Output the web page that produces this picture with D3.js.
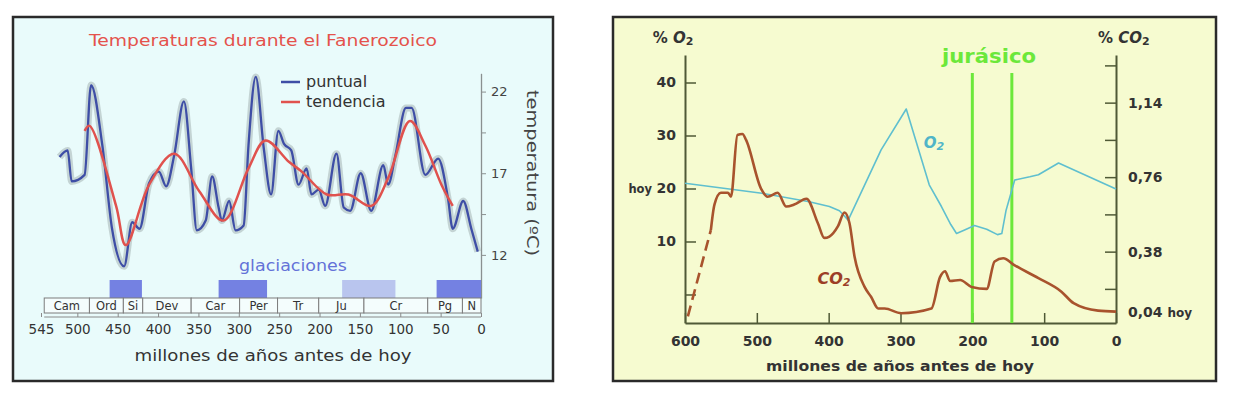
<!DOCTYPE html>
<html>
<head>
<meta charset="utf-8">
<script src="https://cdn.jsdelivr.net/npm/d3@7"></script>
<style>
  body { margin: 0; background: #fff; }
  svg { display: block; font-family: "DejaVu Sans", sans-serif; }
</style>
</head>
<body>
<svg width="1234" height="398"></svg>
<script>
// ---------- left panel: temperatures
const tempAges = [522,512,507,491,483,469,457,442,432,423,411,399,390,380,368,359,352,341,333,325,321,312,304,294,288,279,269,260,251,244,235,226,216,210,201,193,179,170,162,149,136,121,115,106,93,86,69,53,41,35,22,12,4]
const tempPuntual = [18.0,18.4,16.5,16.9,22.4,18.7,13.6,11.3,14.0,13.6,16.4,17.1,16.2,18.1,21.4,17.3,13.5,14.1,16.8,14.9,14.1,15.3,13.5,13.8,18.7,22.9,18.5,15.7,19.6,18.8,18.4,16.3,17.3,15.7,16.0,15.0,18.2,14.9,14.7,17.0,14.7,17.5,16.3,18.1,21.0,21.0,16.9,17.9,15.5,13.6,15.3,13.6,12.2]
const trendAges = [491,485,452,440,411,380,349,319,288,267,238,222,191,164,136,115,88,69,49,35]
const tempTendencia = [19.6,19.9,15.0,12.6,16.3,18.2,15.9,14.1,17.3,19.0,17.7,17.1,15.7,15.7,15.0,16.7,20.2,18.7,16.3,15.0]
const tempTicks = [12, 14.5, 17, 19.5, 22]
const tempTickLabels = [12, 17, 22]
const periodNames = ["Cam","Ord","Si","Dev","Car","Per","Tr","Ju","Cr","Pg","N"]
const periodStarts = [541,485,443,419,359,299,252,201,145,66,23]
const ageTicksLeft = [545,500,450,400,350,300,250,200,150,100,50,0]
const glacStart = [460,325,172,55]
const glacEnd = [420,265,106,0]
const glacUncertain = [false,false,true,false]

// ---------- right panel: O2 and CO2
const o2Ages = [600,549,493,427,399,385,378,373,327,292,260,243,230,222,210,197,180,165,159,153,141,120,108,80,0]
const o2Vals = [21.0,20.1,19.1,17.5,16.6,15.8,14.8,14.0,27.3,35.0,20.7,16.6,13.2,11.5,12.2,13.0,12.3,11.3,11.5,15.9,21.6,22.2,22.6,24.8,19.9]
const co2DashAges = [596,564]
const co2DashVals = [0.05,0.49]
const co2Ages = [564,559,550,540,536,527,520,515,494,485,471,459,448,431,415,406,399,387,378,371,364,350,341,331,322,299,257,245,238,231,217,201,180,169,157,141,108,76,59,25,0]
const co2Vals = [0.49,0.62,0.68,0.68,0.66,0.975,0.98,0.95,0.70,0.66,0.68,0.61,0.62,0.65,0.525,0.45,0.457,0.51,0.58,0.525,0.355,0.20,0.15,0.09,0.09,0.066,0.09,0.25,0.28,0.23,0.235,0.20,0.19,0.33,0.346,0.31,0.245,0.176,0.117,0.079,0.074]
const o2Ticks = [0,10,20,30,40]
const co2Ticks = [0.19,0.38,0.57,0.76,0.95,1.14,1.33]
const co2TickLabels = {0.38: "0,38", 0.76: "0,76", 1.14: "1,14"}
const ageTicksRight = [600,500,400,300,200,100,0]
const jurassic = [200,145]

const svg = d3.select('svg')

// ================= LEFT PANEL =================
const left = svg.append('g')

left.append('rect')
  .attr('x', 13).attr('y', 17).attr('width', 540).attr('height', 364)
  .attr('fill', '#e9fbfb').attr('stroke', '#2a2a2a').attr('stroke-width', 2.5)

const xL = d3.scaleLinear().domain([545, 0]).range([41, 481])
const yT = d3.scaleLinear().domain([9.36, 23.12]).range([298, 73.3])

left.append('text')
  .attr('x', 263).attr('y', 46)
  .attr('text-anchor', 'middle')
  .attr('fill', '#e4524c')
  .attr('textLength', 348).attr('lengthAdjust', 'spacingAndGlyphs')
  .style('font-size', '16.5px')
  .text('Temperaturas durante el Fanerozoico')

// temperature axis
const tAxis = left.append('g')
  .attr('transform', `translate(${xL(0)}, 0)`)
  .call(d3.axisRight(yT).tickValues(tempTicks).tickSize(5).tickSizeOuter(0).tickPadding(5)
    .tickFormat(d => tempTickLabels.includes(d) ? d : ''))
tAxis.select('.domain').attr('stroke', '#8a9090').attr('stroke-width', 1.3)
tAxis.selectAll('.tick line').attr('stroke', '#8a9090')
tAxis.selectAll('text').attr('fill', '#444').style('font-size', '13px').style('font-family', '"DejaVu Sans", sans-serif')

left.append('text')
  .attr('transform', `translate(527, 173) rotate(90)`)
  .attr('text-anchor', 'middle')
  .attr('fill', '#444')
  .attr('textLength', 166).attr('lengthAdjust', 'spacingAndGlyphs')
  .style('font-size', '16px')
  .text('temperatura (ºC)')

// curves
const tempLine = d3.line()
  .x((d, i) => xL(tempAges[i]))
  .y(d => yT(d))
  .curve(d3.curveMonotoneX)

left.append('path')
  .attr('d', tempLine(tempPuntual))
  .attr('fill', 'none').attr('stroke', '#b4c3c3').attr('stroke-width', 7).attr('opacity', 0.7)
  .attr('stroke-linejoin', 'round')

left.append('path')
  .attr('d', tempLine(tempPuntual))
  .attr('fill', 'none').attr('stroke', '#3e4ea6').attr('stroke-width', 2.3)
  .attr('stroke-linejoin', 'round')

const trendLine = d3.line()
  .x((d, i) => xL(trendAges[i]))
  .y(d => yT(d))
  .curve(d3.curveCatmullRom.alpha(0.5))

left.append('path')
  .attr('d', trendLine(tempTendencia))
  .attr('fill', 'none').attr('stroke', '#e0524e').attr('stroke-width', 2.5)

// legend
const legend = left.append('g')
legend.append('line').attr('x1', 281).attr('x2', 300).attr('y1', 82).attr('y2', 82)
  .attr('stroke', '#3e4ea6').attr('stroke-width', 2.5)
legend.append('line').attr('x1', 281).attr('x2', 300).attr('y1', 102).attr('y2', 102)
  .attr('stroke', '#e0524e').attr('stroke-width', 2.5)
legend.append('text').attr('x', 306).attr('y', 87).attr('fill', '#333').style('font-size', '16px').text('puntual')
legend.append('text').attr('x', 306).attr('y', 107).attr('fill', '#333').style('font-size', '16px').text('tendencia')

// glaciations
left.append('text')
  .attr('x', 293).attr('y', 271)
  .attr('text-anchor', 'middle')
  .attr('fill', '#6472d8')
  .attr('textLength', 108).attr('lengthAdjust', 'spacingAndGlyphs')
  .style('font-size', '16.5px')
  .text('glaciaciones')

left.selectAll('.glac')
  .data(glacStart)
  .enter()
  .append('rect')
  .attr('x', (d) => xL(d))
  .attr('y', 280)
  .attr('width', (d, i) => xL(glacEnd[i]) - xL(d))
  .attr('height', 18)
  .attr('fill', (d, i) => glacUncertain[i] ? '#b9c5ee' : '#7481e2')

// period row
const periodEnds = periodStarts.slice(1).concat([0])
left.selectAll('.period')
  .data(periodNames)
  .enter()
  .append('rect')
  .attr('x', (d, i) => xL(periodStarts[i]))
  .attr('y', 298)
  .attr('width', (d, i) => xL(periodEnds[i]) - xL(periodStarts[i]))
  .attr('height', 15)
  .attr('fill', '#f4fdfd')
  .attr('stroke', '#7d7d7d')
  .attr('stroke-width', 1)

left.selectAll('.periodLabel')
  .data(periodNames)
  .enter()
  .append('text')
  .attr('x', (d, i) => (xL(periodEnds[i]) + xL(periodStarts[i])) / 2)
  .attr('y', 310)
  .attr('text-anchor', 'middle')
  .attr('fill', '#333')
  .style('font-size', '11.5px')
  .text(d => d)

left.append('line')
  .attr('x1', xL(541)).attr('x2', xL(0)).attr('y1', 317).attr('y2', 317)
  .attr('stroke', '#8a8a8a')

const xAxisL = left.append('g')
  .attr('transform', 'translate(0, 313)')
  .call(d3.axisBottom(xL).tickValues(ageTicksLeft).tickSize(4).tickPadding(7))
xAxisL.select('.domain').remove()
xAxisL.selectAll('.tick line').attr('stroke', '#8a8a8a')
xAxisL.selectAll('text').attr('fill', '#333').style('font-size', '13.5px').style('font-family', '"DejaVu Sans", sans-serif')

left.append('text')
  .attr('x', 273).attr('y', 361)
  .attr('text-anchor', 'middle')
  .attr('fill', '#333')
  .attr('textLength', 277).attr('lengthAdjust', 'spacingAndGlyphs')
  .style('font-size', '16.5px')
  .text('millones de años antes de hoy')

// ================= RIGHT PANEL =================
const right = svg.append('g')

right.append('rect')
  .attr('x', 613).attr('y', 17).attr('width', 603).attr('height', 364)
  .attr('fill', '#f6fbd0').attr('stroke', '#2a2a2a').attr('stroke-width', 2.5)

const xR = d3.scaleLinear().domain([600, 0]).range([685, 1116])
const yL = d3.scaleLinear().domain([-5.38, 45.19]).range([323, 55])
const yR = d3.scaleLinear().domain([0.016, 1.383]).range([323, 55])
const axisColor = '#4f5936'

const o2Axis = right.append('g')
  .attr('transform', `translate(${xR(600)}, 0)`)
  .call(d3.axisLeft(yL).tickValues(o2Ticks).tickSize(-11).tickSizeOuter(0).tickPadding(9)
    .tickFormat(d => d === 0 ? '' : d))
const co2Axis = right.append('g')
  .attr('transform', `translate(${xR(0)}, 0)`)
  .call(d3.axisRight(yR).tickValues(co2Ticks).tickSize(-11).tickSizeOuter(0).tickPadding(12)
    .tickFormat(d => co2TickLabels[d] || ''))
const ageAxis = right.append('g')
  .attr('transform', `translate(0, ${yL.range()[0]})`)
  .call(d3.axisBottom(xR).tickValues(ageTicksRight).tickSize(-10).tickSizeOuter(0).tickPadding(13))

for (const ax of [o2Axis, co2Axis, ageAxis]) {
  ax.select('.domain').attr('stroke', axisColor).attr('stroke-width', 2)
  ax.selectAll('.tick line').attr('stroke', axisColor).attr('stroke-width', 1.5)
  ax.selectAll('text').attr('fill', '#333').style('font-size', '14px').style('font-weight', 'bold')
    .style('font-family', '"DejaVu Sans", sans-serif')
}

right.append('text')
  .attr('x', xR(600) - 33).attr('y', yL(20) + 5)
  .attr('text-anchor', 'end')
  .attr('fill', '#333')
  .style('font-size', '11.5px').style('font-weight', 'bold')
  .text('hoy')

right.append('text')
  .attr('x', xR(0) + 12).attr('y', yR(co2Vals[co2Vals.length - 1]) + 5)
  .attr('fill', '#333')
  .style('font-size', '14px').style('font-weight', 'bold')
  .text('0,04 ')
  .append('tspan').style('font-size', '12px').text('hoy')

// axis headers
const o2Head = right.append('text')
  .attr('x', 673).attr('y', 43)
  .attr('text-anchor', 'middle')
  .attr('fill', '#333')
  .style('font-size', '15px').style('font-weight', 'bold')
o2Head.append('tspan').text('% ')
o2Head.append('tspan').style('font-style', 'italic').text('O')
o2Head.append('tspan').attr('dy', 2).style('font-size', '11px').text('2')

const co2Head = right.append('text')
  .attr('x', 1098).attr('y', 43)
  .attr('fill', '#333')
  .style('font-size', '15px').style('font-weight', 'bold')
co2Head.append('tspan').text('%  ')
co2Head.append('tspan').style('font-style', 'italic').text('CO')
co2Head.append('tspan').attr('dy', 2).style('font-size', '11px').text('2')

// jurassic
right.selectAll('.jur')
  .data(jurassic)
  .enter()
  .append('line')
  .attr('x1', d => xR(d)).attr('x2', d => xR(d))
  .attr('y1', 73).attr('y2', yL.range()[0])
  .attr('stroke', '#6ce83a').attr('stroke-width', 3)

right.append('text')
  .attr('x', 989).attr('y', 63)
  .attr('text-anchor', 'middle')
  .attr('fill', '#6ce83a')
  .attr('textLength', 94).attr('lengthAdjust', 'spacingAndGlyphs')
  .style('font-size', '19px').style('font-weight', 'bold')
  .text('jurásico')

// O2 line
const o2Line = d3.line()
  .x((d, i) => xR(o2Ages[i]))
  .y(d => yL(d))

right.append('path')
  .attr('d', o2Line(o2Vals))
  .attr('fill', 'none').attr('stroke', '#5fbfcf').attr('stroke-width', 1.6)
  .attr('stroke-linejoin', 'round')

// CO2 lines
const co2Line = d3.line()
  .x((d, i) => xR(co2Ages[i]))
  .y(d => yR(d))
  .curve(d3.curveMonotoneX)
const co2DashLine = d3.line()
  .x((d, i) => xR(co2DashAges[i]))
  .y(d => yR(d))

right.append('path')
  .attr('d', co2DashLine(co2DashVals))
  .attr('fill', 'none').attr('stroke', '#a8532d').attr('stroke-width', 2.6)
  .attr('stroke-dasharray', '11,6')

right.append('path')
  .attr('d', co2Line(co2Vals))
  .attr('fill', 'none').attr('stroke', '#a8532d').attr('stroke-width', 2.6)
  .attr('stroke-linejoin', 'round')

// series labels
const o2Label = right.append('text')
  .attr('x', 934).attr('y', 148)
  .attr('text-anchor', 'middle')
  .attr('fill', '#4fb5c8')
  .style('font-size', '15px').style('font-weight', 'bold').style('font-style', 'italic')
o2Label.append('tspan').text('O')
o2Label.append('tspan').attr('dy', 2).style('font-size', '11px').text('2')

const co2Label = right.append('text')
  .attr('x', 834).attr('y', 284)
  .attr('text-anchor', 'middle')
  .attr('fill', '#9c3e26')
  .style('font-size', '16px').style('font-weight', 'bold').style('font-style', 'italic')
co2Label.append('tspan').text('CO')
co2Label.append('tspan').attr('dy', 2).style('font-size', '11px').text('2')

right.append('text')
  .attr('x', 900).attr('y', 371)
  .attr('text-anchor', 'middle')
  .attr('fill', '#333')
  .attr('textLength', 268).attr('lengthAdjust', 'spacingAndGlyphs')
  .style('font-size', '14px').style('font-weight', 'bold')
  .text('millones de años antes de hoy')
</script>
</body>
</html>
